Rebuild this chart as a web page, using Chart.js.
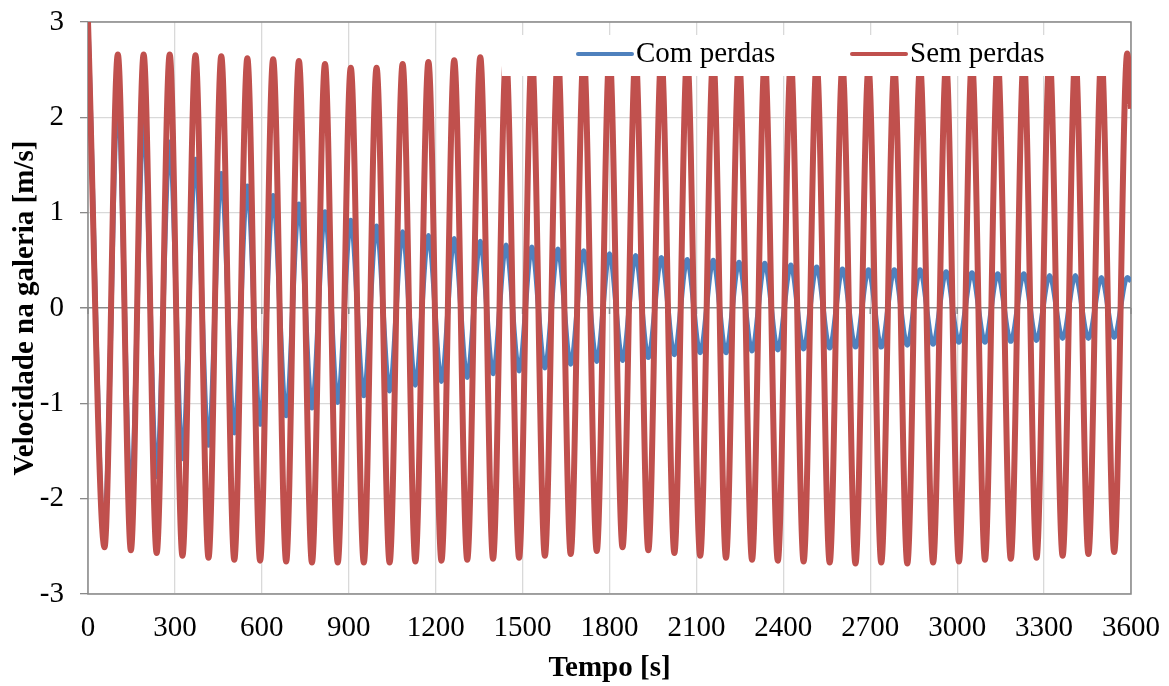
<!DOCTYPE html>
<html>
<head>
<meta charset="utf-8">
<script src="https://cdn.jsdelivr.net/npm/chart.js@4.4.1/dist/chart.umd.min.js"></script>
<style>
  html, body { margin: 0; padding: 0; background: #fff; }
  #wrap { width: 1169px; height: 686px; }
</style>
</head>
<body>
<div id="wrap"><canvas id="grafico"></canvas></div>
<script>
// instantes dos vales e picos [s]
const tempo = [0,
  57, 103, 148, 192, 237, 282, 326, 371, 416, 460,
  505, 550, 594, 639, 684, 728, 773, 818, 862, 907,
  952, 996, 1041, 1086, 1130, 1175, 1220, 1264, 1309, 1354,
  1398, 1443, 1488, 1532, 1577, 1622, 1666, 1711, 1756, 1800,
  1845, 1890, 1934, 1979, 2024, 2068, 2113, 2158, 2202, 2247,
  2292, 2336, 2381, 2426, 2470, 2515, 2560, 2604, 2649, 2694,
  2738, 2783, 2828, 2872, 2917, 2962, 3006, 3051, 3096, 3140,
  3185, 3230, 3274, 3319, 3364, 3408, 3453, 3498, 3542, 3587,
  3600];

// velocidade na galeria [m/s] - com perdas de carga
const comPerdas = [3.00,
  -2.27, 2.20, -2.00, 1.97, -1.77, 1.74, -1.58, 1.56, -1.44, 1.41,
  -1.31, 1.28, -1.22, 1.18, -1.13, 1.09, -1.05, 1.01, -0.99, 0.92,
  -0.92, 0.86, -0.87, 0.80, -0.81, 0.76, -0.77, 0.73, -0.73, 0.70,
  -0.69, 0.66, -0.66, 0.64, -0.63, 0.62, -0.59, 0.60, -0.56, 0.57,
  -0.55, 0.55, -0.52, 0.53, -0.49, 0.51, -0.47, 0.50, -0.47, 0.48,
  -0.45, 0.47, -0.44, 0.45, -0.43, 0.43, -0.42, 0.41, -0.41, 0.40,
  -0.41, 0.40, -0.39, 0.40, -0.38, 0.38, -0.36, 0.37, -0.36, 0.36,
  -0.35, 0.36, -0.34, 0.34, -0.32, 0.34, -0.32, 0.32, -0.31, 0.32,
  0.28];

// velocidade na galeria [m/s] - sem perdas de carga
const semPerdas = [3.00,
  -2.51, 2.66, -2.54, 2.66, -2.57, 2.66, -2.60, 2.65, -2.62, 2.64,
  -2.64, 2.62, -2.65, 2.61, -2.66, 2.59, -2.67, 2.56, -2.67, 2.52,
  -2.67, 2.52, -2.67, 2.56, -2.66, 2.58, -2.65, 2.60, -2.64, 2.63,
  -2.63, 2.64, -2.62, 2.65, -2.60, 2.66, -2.58, 2.66, -2.55, 2.67,
  -2.51, 2.66, -2.54, 2.65, -2.57, 2.64, -2.60, 2.63, -2.62, 2.62,
  -2.64, 2.61, -2.65, 2.59, -2.66, 2.57, -2.67, 2.54, -2.68, 2.52,
  -2.67, 2.52, -2.68, 2.54, -2.67, 2.57, -2.66, 2.59, -2.64, 2.61,
  -2.63, 2.63, -2.62, 2.64, -2.60, 2.65, -2.58, 2.66, -2.56, 2.67,
  2.09];

const series = ['Com perdas', 'Sem perdas'];
const cores = ['#4F81BD', '#C0504D'];
const ticksX = [0, 300, 600, 900, 1200, 1500, 1800, 2100, 2400, 2700, 3000, 3300, 3600];
const ticksY = [-3, -2, -1, 0, 1, 2, 3];

const fonte = 'Liberation Serif, Times New Roman, serif';

// moldura da área do gráfico e marcas no eixo do zero
const moldura = {
  id: 'moldura',
  beforeDatasetsDraw(chart) {
    const { ctx, chartArea: a, scales: { x, y } } = chart;
    ctx.save();
    ctx.strokeStyle = '#898989';
    ctx.lineWidth = 1.5;
    ctx.strokeRect(a.left, a.top, a.right - a.left, a.bottom - a.top);
    const y0 = y.getPixelForValue(0);
    ctx.beginPath();
    ticksX.forEach(v => {
      const px = x.getPixelForValue(v);
      ctx.moveTo(px, y0);
      ctx.lineTo(px, y0 + 6);
    });
    ctx.stroke();
    ctx.restore();
  }
};

// legenda por cima das linhas, com fundo branco
const legenda = {
  id: 'legenda',
  afterDatasetsDraw(chart) {
    const { ctx, chartArea: a } = chart;
    ctx.save();
    ctx.fillStyle = '#fff';
    ctx.fillRect(a.left + 414, a.top + 13, 612, 41);
    const yc = a.top + 32;
    const itens = [
      { x: a.left + 490, txt: series[0], cor: cores[0] },
      { x: a.left + 764, txt: series[1], cor: cores[1] }
    ];
    itens.forEach(it => {
      ctx.strokeStyle = it.cor;
      ctx.lineWidth = 4;
      ctx.lineCap = 'round';
      ctx.beginPath();
      ctx.moveTo(it.x, yc);
      ctx.lineTo(it.x + 54, yc);
      ctx.stroke();
      ctx.fillStyle = '#000';
      ctx.font = '29px ' + fonte;
      ctx.textBaseline = 'middle';
      ctx.textAlign = 'left';
      ctx.fillText(it.txt, it.x + 58, yc);
    });
    ctx.restore();
  }
};

new Chart(document.getElementById('grafico'), {
  type: 'line',
  data: {
    datasets: [
      {
        label: series[1],
        data: tempo.map((t, i) => ({ x: t, y: semPerdas[i] })),
        borderColor: cores[1],
        borderWidth: 6,
        order: 0
      },
      {
        label: series[0],
        data: tempo.map((t, i) => ({ x: t, y: comPerdas[i] })),
        borderColor: cores[0],
        borderWidth: 5,
        order: 1
      }
    ]
  },
  options: {
    responsive: true,
    maintainAspectRatio: false,
    animation: false,
    layout: { padding: { top: 22, right: 38, left: 0, bottom: 0 } },
    elements: {
      point: { radius: 0 },
      line: { cubicInterpolationMode: 'monotone', fill: false }
    },
    datasets: { line: { clip: 0 } },
    scales: {
      x: {
        type: 'linear',
        min: 0,
        max: 3600,
        afterBuildTicks: s => { s.ticks = ticksX.map(v => ({ value: v })); },
        afterFit: s => { s.height = 92; s.paddingLeft = 0; s.paddingRight = 0; },
        grid: { color: '#d9d9d9', lineWidth: 1.3, drawTicks: false },
        border: { display: false },
        ticks: {
          color: '#000',
          font: { family: fonte, size: 29 },
          padding: 17,
          maxRotation: 0,
          callback: v => String(v)
        },
        title: {
          display: true,
          text: 'Tempo [s]',
          color: '#000',
          font: { family: fonte, size: 29, weight: 'bold' },
          padding: { top: 1, bottom: 0 }
        }
      },
      y: {
        min: -3,
        max: 3,
        afterBuildTicks: s => { s.ticks = ticksY.map(v => ({ value: v })); },
        afterFit: s => { s.width = 88; s.paddingTop = 0; s.paddingBottom = 0; },
        grid: {
          color: c => (c.tick && c.tick.value === 0 ? '#898989' : '#d9d9d9'),
          lineWidth: c => (c.tick && c.tick.value === 0 ? 1.5 : 1.3),
          tickLength: 8,
          tickColor: '#898989'
        },
        border: { display: false },
        ticks: {
          color: '#000',
          font: { family: fonte, size: 29 },
          padding: 16,
          callback: v => String(v)
        },
        title: {
          display: true,
          text: 'Velocidade na galeria [m/s]',
          color: '#000',
          font: { family: fonte, size: 29, weight: 'bold' },
          padding: { top: 8, bottom: 0 }
        }
      }
    },
    plugins: {
      legend: { display: false },
      tooltip: { enabled: false }
    }
  },
  plugins: [moldura, legenda]
});
</script>
</body>
</html>
